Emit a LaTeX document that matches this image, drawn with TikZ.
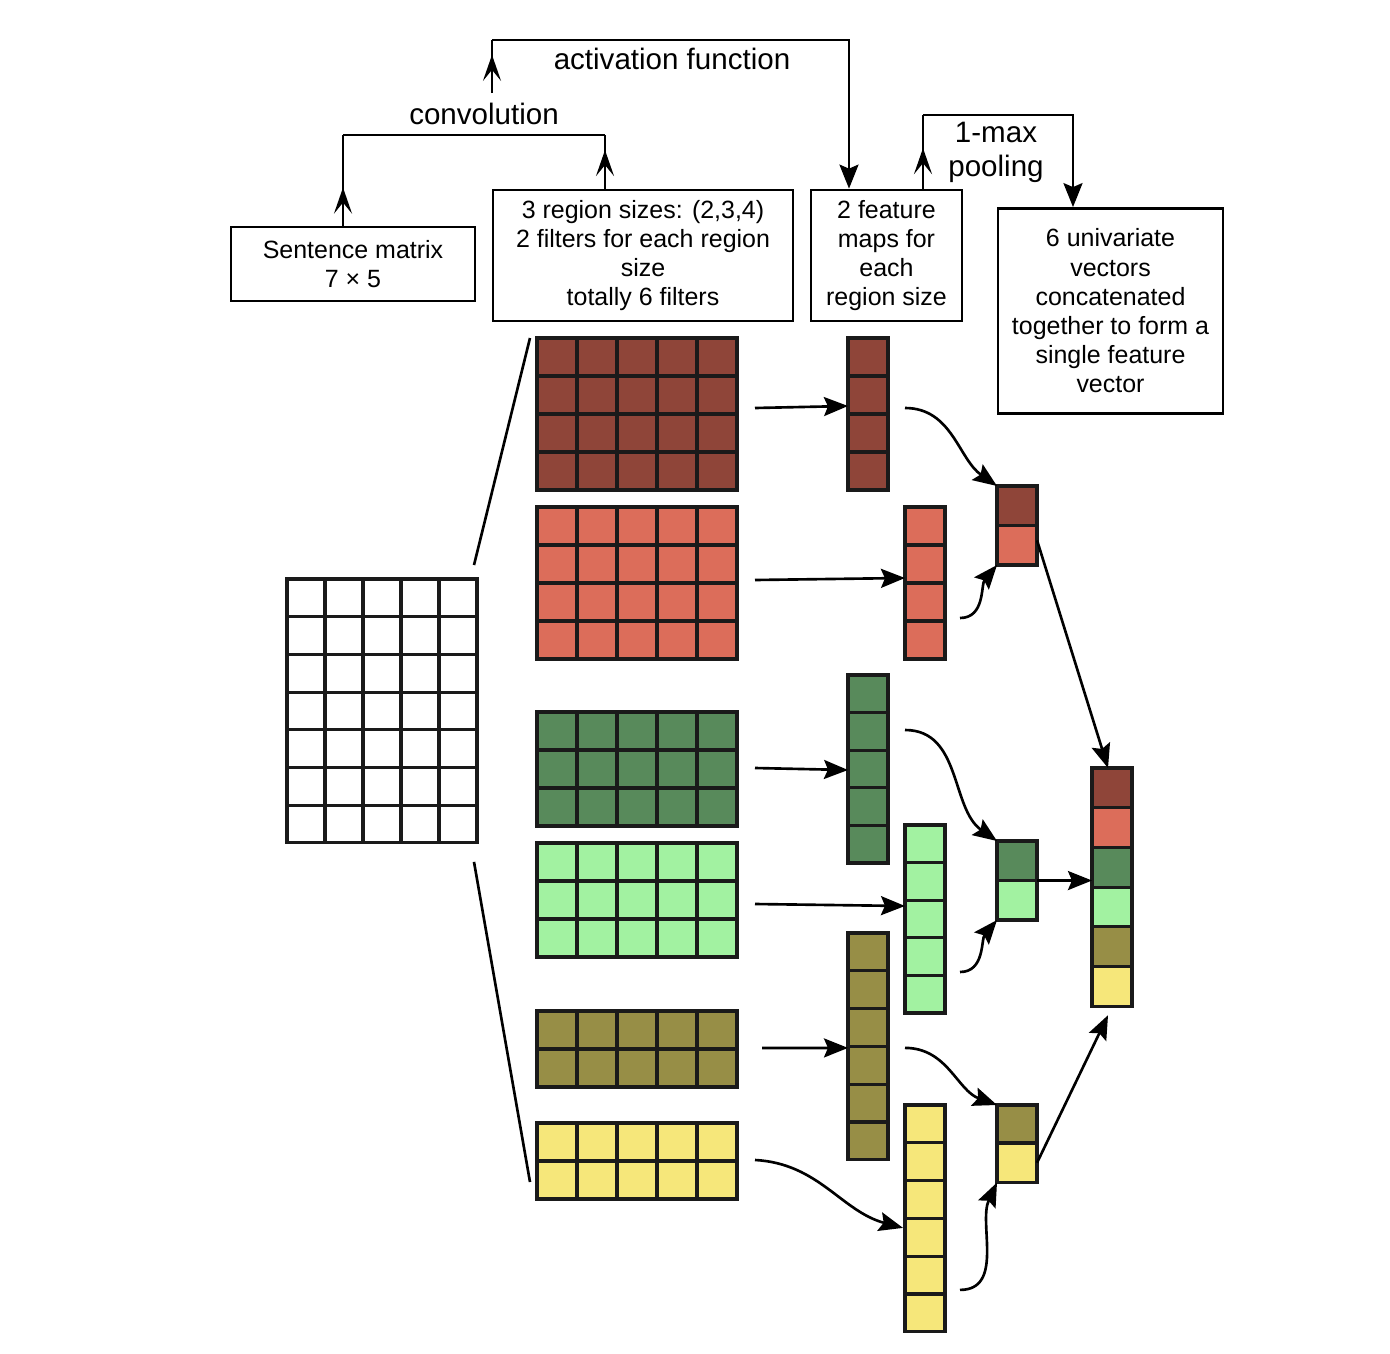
\documentclass[tikz,border=0pt]{standalone}
\usepackage{fontspec}
\setmainfont{Liberation Sans}
\usetikzlibrary{arrows.meta,calc,decorations.markings}
\definecolor{cA}{HTML}{8F4539}
\definecolor{cB}{HTML}{DC6D5A}
\definecolor{cC}{HTML}{588A5B}
\definecolor{cD}{HTML}{A2F2A1}
\definecolor{cE}{HTML}{978E46}
\definecolor{cF}{HTML}{F6E77A}
\definecolor{gl}{HTML}{1A1A1A}
\tikzset{
  mcell/.style={draw=gl, line width=0.9pt, inner sep=0pt, outer sep=0pt, anchor=north west},
  gline/.style={draw=gl, line width=0.9pt},
  vcell/.style={draw=gl, line width=0.9pt, inner sep=0pt, outer sep=0pt, anchor=north west, minimum width=0.4cm, minimum height=0.395cm},
  tbox/.style={draw, line width=0.75pt, align=center, inner sep=0pt, font=\fontsize{7.1}{8.3}\selectfont},
  lbl/.style={align=center, inner sep=0pt, font=\fontsize{8.4}{9.8}\selectfont},
  conn/.style={line width=0.75pt},
  arr/.style={line width=0.75pt, -{Stealth[length=2.4mm,width=1.9mm,inset=0.4mm]}},
  midarrow/.style={postaction={decorate}, decoration={markings, mark=at position #1 with {\arrow{Stealth[length=2.6mm,width=1.8mm,inset=1.1mm]}}}}
}
\newcommand\mgrid[8]{%
  \node[mcell, fill=#8, minimum width={#4*#6*0.01cm}, minimum height={#5*#7*0.01cm}] (#1) at (#2,#3) {};
  \pgfmathtruncatemacro\ncm{#4-1}%
  \pgfmathtruncatemacro\nrm{#5-1}%
  \ifnum\ncm>0 \foreach \k in {1,...,\ncm} {\draw[gline] ($(#1.north west)+(\k*#6,0)$) -- ($(#1.south west)+(\k*#6,0)$);}\fi
  \ifnum\nrm>0 \foreach \k in {1,...,\nrm} {\draw[gline] ($(#1.north west)+(0,\k*#7)$) -- ($(#1.north east)+(0,\k*#7)$);}\fi
}
\begin{document}
\begin{tikzpicture}[x=0.01cm, y=-0.01cm]
\useasboundingbox (0,0) rectangle (1390,1354);

% text boxes
\node[tbox, minimum width=2.44cm, minimum height=0.74cm] (B1) at (353,264) {Sentence matrix\\7 × 5};
\node[tbox, minimum width=3.00cm, minimum height=1.31cm] (B2) at (643,255.5) {3 region sizes: (2,3,4)\\2 filters for each region\\size\\totally 6 filters};
\node[tbox, minimum width=1.51cm, minimum height=1.31cm] (B3) at (886.5,255.5) {2 feature\\maps for\\each\\region size};
\node[tbox, minimum width=2.25cm, minimum height=2.05cm] (B4) at (1110.5,311) {6 univariate\\vectors\\concatenated\\together to form a\\single feature\\vector};

% labels
\node[lbl] (Lconv) at (484,114) {convolution};
\node[lbl] (Lact) at (672,59) {activation function};
\node[lbl, font=\fontsize{8.4}{9.7}\selectfont] (Lpool) at (996,152) {1-max\\pooling};

% top connectors
\coordinate (c1) at (343,135);
\coordinate (c2) at (605,135);
\draw[conn, midarrow=0.42] (B1.north -| c1) -- (c1);
\draw[conn] (c1) -- (c2);
\draw[conn, midarrow=0.72] (B2.north -| c2) -- (c2);

\coordinate (a0) at (492,93);
\coordinate (a1) at (492,40);
\coordinate (a2) at (849,40);
\draw[conn, midarrow=0.72] (a0) -- (a1);
\draw[arr] (a1) -- (a2) -- (B3.north -| a2);

\coordinate (p1) at (923,115);
\coordinate (p2) at (1073,115);
\draw[conn, midarrow=0.55] (B3.north -| p1) -- (p1);
\draw[arr] (p1) -- (p2) -- (B4.north -| p2);

% sentence matrix
\mgrid{S}{287}{579}{5}{7}{38}{37.7}{white}

% filters
\mgrid{F1}{537}{338}{5}{4}{40}{38}{cA}
\mgrid{F2}{537}{507}{5}{4}{40}{38}{cB}
\mgrid{F3}{537}{712}{5}{3}{40}{38}{cC}
\mgrid{F4}{537}{843}{5}{3}{40}{38}{cD}
\mgrid{F5}{537}{1011}{5}{2}{40}{38}{cE}
\mgrid{F6}{537}{1123}{5}{2}{40}{38}{cF}

% feature maps
\mgrid{M1}{848}{338}{1}{4}{40}{38}{cA}
\mgrid{M2}{905}{507}{1}{4}{40}{38}{cB}
\mgrid{M3}{848}{675}{1}{5}{40}{37.6}{cC}
\mgrid{M4}{905}{825}{1}{5}{40}{37.6}{cD}
\mgrid{M5}{848}{933}{1}{6}{40}{37.8}{cE}
\mgrid{M6}{905}{1105}{1}{6}{40}{37.8}{cF}

% pooled pairs
\node[vcell, fill=cA] (P1a) at (997,486) {};
\node[vcell, fill=cB] (P1b) at (997,525.5) {};
\node[vcell, fill=cC] (P2a) at (997,841) {};
\node[vcell, fill=cD] (P2b) at (997,880.5) {};
\node[vcell, fill=cE] (P3a) at (997,1105) {};
\node[vcell, fill=cF] (P3b) at (997,1143) {};

% final vector
\foreach \c [count=\i] in {cA,cB,cC,cD,cE,cF}
  \node[vcell, fill=\c, minimum height=0.397cm] (V\i) at (1092,{768+(\i-1)*39.7}) {};

% sentence -> filters lines
\draw[conn] ([shift={(-3,-14)}]S.north east) -- ([shift={(-7,0)}]F1.north west);
\draw[conn] ([shift={(-3,19)}]S.south east) -- ([shift={(-7,-17)}]F6.south west);

% filters -> feature maps
\draw[arr] ([shift={(18,-6)}]F1.east) -- ([shift={(0,-8)}]M1.west);
\draw[arr] ([shift={(18,-3)}]F2.east) -- ([shift={(0,-5)}]M2.west);
\draw[arr] ([shift={(18,-1)}]F3.east) -- ([shift={(0,1)}]M3.west);
\draw[arr] ([shift={(18,4)}]F4.east) -- ([shift={(0,-13)}]M4.west);
\draw[arr] ([shift={(25,-1)}]F5.east) -- ([shift={(0,1.5)}]M5.west);
\draw[arr] ([shift={(18,-1)}]F6.east) to[out=-3,in=165] ([shift={(-2,9.5)}]M6.west);

% feature maps -> pooled
\draw[arr] ([shift={(17,-6)}]M1.east) to[out=0,in=145] (P1a.north west);
\draw[arr] ([shift={(15,35)}]M2.east) to[out=0,in=230] (P1b.south west);
\draw[arr] ([shift={(17,-39)}]M3.east) to[out=0,in=145] (P2a.north west);
\draw[arr] ([shift={(15,53)}]M4.east) to[out=0,in=230] (P2b.south west);
\draw[arr] ([shift={(17,1.5)}]M5.east) to[out=0,in=160] (P3a.north west);
\draw[arr] ([shift={(15,71.5)}]M6.east) to[out=0,in=245] (P3b.south west);

% pooled -> final
\draw[arr] ([shift={(0,-5)}]P1b.east) -- ([shift={(-4,0)}]V1.north);
\draw[arr] (P2a.south east) -- (P2a.south east -| V3.west);
\draw[arr] (P3b.east) -- ([shift={(-4,9)}]V6.south);
\end{tikzpicture}
\end{document}
